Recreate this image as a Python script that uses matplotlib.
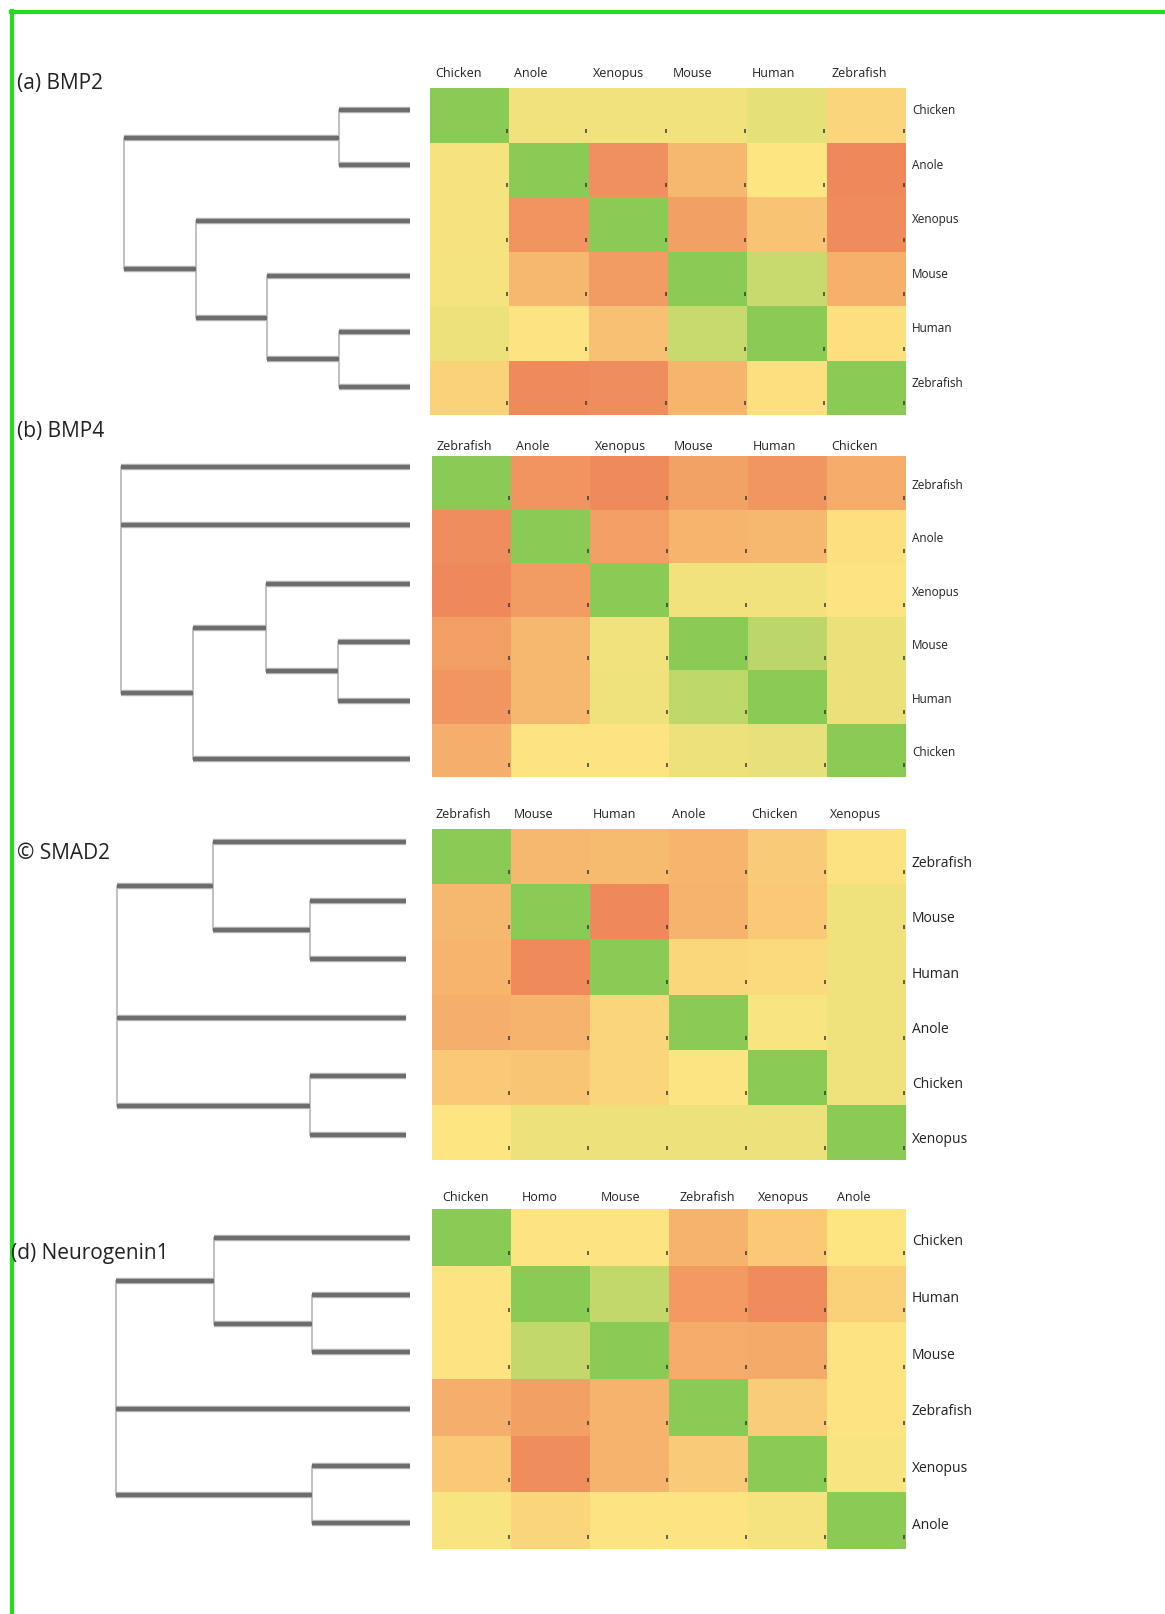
import matplotlib
matplotlib.use("Agg")
import matplotlib.pyplot as plt
from matplotlib.colors import LinearSegmentedColormap
from matplotlib.lines import Line2D
from matplotlib import transforms
import numpy as np

plt.rcParams['font.family'] = ['Open Sans', 'DejaVu Sans']

W, H = 1165, 1614

# ---------------- data ----------------
a_title = "(a) BMP2"
a_cols = ["Chicken", "Anole", "Xenopus", "Mouse", "Human", "Zebrafish"]
a_rows = ["Chicken", "Anole", "Xenopus", "Mouse", "Human", "Zebrafish"]
a_vals = [
    [1.00, 0.55, 0.55, 0.55, 0.60, 0.42],
    [0.53, 1.00, 0.08, 0.27, 0.50, 0.04],
    [0.53, 0.10, 1.00, 0.16, 0.33, 0.06],
    [0.54, 0.28, 0.14, 1.00, 0.73, 0.24],
    [0.57, 0.49, 0.32, 0.73, 1.00, 0.47],
    [0.41, 0.05, 0.07, 0.26, 0.47, 1.00],
]
a_tree = (4, [(1, [0, 1]), (3, [2, (2, [3, (1, [4, 5])])])])

b_title = "(b) BMP4"
b_cols = ["Zebrafish", "Anole", "Xenopus", "Mouse", "Human", "Chicken"]
b_rows = ["Zebrafish", "Anole", "Xenopus", "Mouse", "Human", "Chicken"]
b_vals = [
    [1.00, 0.10, 0.05, 0.17, 0.11, 0.22],
    [0.07, 1.00, 0.15, 0.26, 0.27, 0.47],
    [0.04, 0.14, 1.00, 0.55, 0.55, 0.49],
    [0.15, 0.27, 0.55, 1.00, 0.78, 0.58],
    [0.11, 0.28, 0.56, 0.77, 1.00, 0.58],
    [0.23, 0.49, 0.49, 0.57, 0.59, 1.00],
]
b_tree = (4, [0, 1, (3, [(2, [2, (1, [3, 4])]), 5])])

c_title = "© SMAD2"
c_cols = ["Zebrafish", "Mouse", "Human", "Anole", "Chicken", "Xenopus"]
c_rows = ["Zebrafish", "Mouse", "Human", "Anole", "Chicken", "Xenopus"]
c_vals = [
    [1.00, 0.28, 0.29, 0.26, 0.37, 0.48],
    [0.27, 1.00, 0.04, 0.25, 0.36, 0.56],
    [0.26, 0.05, 1.00, 0.43, 0.44, 0.56],
    [0.23, 0.25, 0.42, 1.00, 0.52, 0.56],
    [0.36, 0.34, 0.42, 0.51, 1.00, 0.56],
    [0.50, 0.57, 0.57, 0.57, 0.57, 1.00],
]
c_tree = (3, [(2, [0, (1, [1, 2])]), 3, (1, [4, 5])])

d_title = "(d) Neurogenin1"
d_cols = ["Chicken", "Homo", "Mouse", "Zebrafish", "Xenopus", "Anole"]
d_rows = ["Chicken", "Human", "Mouse", "Zebrafish", "Xenopus", "Anole"]
d_vals = [
    [1.00, 0.49, 0.49, 0.25, 0.36, 0.50],
    [0.49, 1.00, 0.75, 0.13, 0.06, 0.40],
    [0.49, 0.75, 1.00, 0.22, 0.21, 0.49],
    [0.23, 0.16, 0.25, 1.00, 0.38, 0.49],
    [0.36, 0.07, 0.25, 0.37, 1.00, 0.52],
    [0.52, 0.42, 0.49, 0.49, 0.54, 1.00],
]
d_tree = (3, [(2, [0, (1, [1, 2])]), 3, (1, [4, 5])])

# ---------------- layout (pixels) ----------------
layouts = [
    dict(title=a_title, cols=a_cols, rows=a_rows, vals=a_vals, tree=a_tree,
         lab=(17, 84), hm=(430, 88, 906, 415), col_y=77, coloff=0.06,
         root_x=124, leaf_x=410, leaf_y0=110, leaf_dy=55.4,
         rowoff=-0.08, rowfs=8.5, colfs=9),
    dict(title=b_title, cols=b_cols, rows=b_rows, vals=b_vals, tree=b_tree,
         lab=(17, 432), hm=(432, 456, 906, 777), col_y=450, coloff=0.06,
         root_x=121, leaf_x=410, leaf_y0=467, leaf_dy=58.4,
         rowoff=0.05, rowfs=8.5, colfs=9),
    dict(title=c_title, cols=c_cols, rows=c_rows, vals=c_vals, tree=c_tree,
         lab=(17, 854), hm=(432, 829, 906, 1160), col_y=818, coloff=0.04,
         root_x=117, leaf_x=406, leaf_y0=842, leaf_dy=58.6,
         rowoff=0.13, rowfs=10, colfs=9),
    dict(title=d_title, cols=d_cols, rows=d_rows, vals=d_vals, tree=d_tree,
         lab=(11, 1253), hm=(432, 1209, 906, 1549), col_y=1201, coloff=0.13,
         root_x=116, leaf_x=410, leaf_y0=1238, leaf_dy=57,
         rowoff=0.08, rowfs=10, colfs=9),
]

cmap = LinearSegmentedColormap.from_list(
    "ryg", ["#EE8057", "#FDE582", "#8ACB55"])

fig = plt.figure(figsize=(W / 100, H / 100), dpi=100)
fig.patch.set_facecolor("white")


def px_axes(x0, y0, x1, y1):
    return fig.add_axes([x0 / W, 1 - y1 / H, (x1 - x0) / W, (y1 - y0) / H])


def draw_tree(ax, node):
    """Return (y, height) of node; draws the branches."""
    if isinstance(node, int):
        return float(node), 0.0
    h, children = node
    pos = [draw_tree(ax, c) for c in children]
    ys = [p[0] for p in pos]
    for (cy, ch) in pos:
        ax.plot([h, ch], [cy, cy], color="#b0b0b0", lw=4.6,
                solid_capstyle="butt", zorder=2, clip_on=False)
        ax.plot([h, ch], [cy, cy], color="#6c6c6c", lw=2.8,
                solid_capstyle="butt", zorder=3, clip_on=False)
    ax.plot([h, h], [min(ys), max(ys)], color="#b5b5b5", lw=1.2,
            zorder=1, clip_on=False)
    return (min(ys) + max(ys)) / 2.0, h


for L in layouts:
    vals = np.array(L["vals"])
    n = len(L["rows"])
    x0, y0, x1, y1 = L["hm"]
    ax = px_axes(x0, y0, x1, y1)
    ax.pcolormesh(np.arange(n + 1), np.arange(n + 1), vals, cmap=cmap,
                  vmin=0, vmax=1, shading="flat")
    ax.set_xlim(0, n)
    ax.set_ylim(n, 0)
    ax.axis("off")
    # small tick marks inside cells
    for i in range(n):
        for j in range(n):
            ax.plot(j + 0.97, i + 0.78, marker="|", ms=3.5, mew=1.1,
                    color="#3a3a3a", clip_on=False)
    # column labels
    trans = transforms.blended_transform_factory(ax.transData, fig.transFigure)
    for j, c in enumerate(L["cols"]):
        ax.text(j + L["coloff"], 1 - L["col_y"] / H, c, transform=trans,
                ha="left", va="baseline", fontsize=L["colfs"], color="#222222")
    # row labels
    cw = (x1 - x0) / n
    for i, r in enumerate(L["rows"]):
        ax.text(n + 6 / cw, i + 0.5 + L["rowoff"], r, ha="left", va="center",
                fontsize=L["rowfs"], color="#222222", clip_on=False)

    # dendrogram
    dy = L["leaf_dy"]
    dax = px_axes(L["root_x"], L["leaf_y0"] - dy / 2,
                  L["leaf_x"], L["leaf_y0"] + (n - 0.5) * dy)
    draw_tree(dax, L["tree"])
    dax.set_xlim(L["tree"][0], 0)
    dax.set_ylim(n - 0.5, -0.5)
    dax.axis("off")

    # panel label
    fig.text(L["lab"][0] / W, 1 - L["lab"][1] / H, L["title"],
             ha="left", va="center", fontsize=15, color="#222222")

# green frame
fig.add_artist(Line2D([11 / W, 1.0], [1 - 12 / H, 1 - 12 / H],
                      color="#22DD22", lw=3, transform=fig.transFigure))
fig.add_artist(Line2D([12 / W, 12 / W], [1 - 11 / H, 0.0],
                      color="#22DD22", lw=3, transform=fig.transFigure))

fig.savefig("out.png", dpi=100, facecolor="white")
